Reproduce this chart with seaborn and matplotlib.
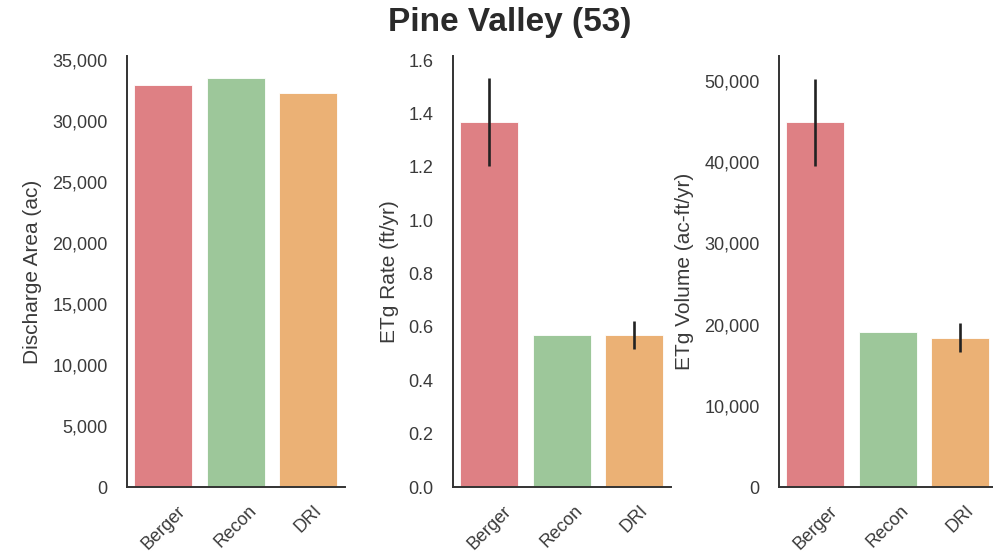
import numpy as np
import pandas as pd
import matplotlib
matplotlib.use("Agg")
import matplotlib.pyplot as plt
from matplotlib.ticker import FuncFormatter, MultipleLocator
import seaborn as sns

# Groundwater discharge estimates for Pine Valley (basin 53)
sources = ["Berger", "Recon", "DRI"]
discharge_area = [32950, 33500, 32320]          # ac
etg_rate = [1.366, 0.570, 0.570]                # ft/yr
etg_rate_low = [1.204, np.nan, 0.516]
etg_rate_high = [1.531, np.nan, 0.623]
etg_volume = [44910, 19050, 18310]              # ac-ft/yr
etg_volume_low = [39540, np.nan, 16660]
etg_volume_high = [50300, np.nan, 20160]

colors = ["#de8084", "#9dc79a", "#ebb175"]

sns.set_style("white")
plt.rcParams["font.family"] = ["Liberation Sans", "DejaVu Sans"]
text_color = "#3a3a3a"

fig = plt.figure(figsize=(9.93, 5.57), dpi=100)
W, H = 993, 557
bottom = 70 / H
height = 431 / H
width = 217.5 / W
lefts = [127 / W, 453 / W, 779 / W]

panels = [
    dict(values=discharge_area, low=None, high=None,
         ylabel="Discharge Area (ac)", ylim=35330, step=5000, fmt="{:,.0f}"),
    dict(values=etg_rate, low=etg_rate_low, high=etg_rate_high,
         ylabel="ETg Rate (ft/yr)", ylim=1.615, step=0.2, fmt="{:.1f}"),
    dict(values=etg_volume, low=etg_volume_low, high=etg_volume_high,
         ylabel="ETg Volume (ac-ft/yr)", ylim=53080, step=10000, fmt="{:,.0f}"),
]

for left, p in zip(lefts, panels):
    ax = fig.add_axes([left, bottom, width, height])
    df = pd.DataFrame({"source": sources, "value": p["values"]})
    sns.barplot(data=df, x="source", y="value", hue="source", palette=colors,
                order=sources, hue_order=sources, legend=False, errorbar=None,
                width=0.8, saturation=1, ax=ax)
    for bar in ax.patches:
        bar.set_edgecolor("white")
        bar.set_linewidth(0.6)

    if p["low"] is not None:
        centers = [b.get_x() + b.get_width() / 2 for b in ax.patches]
        low = np.array(p["low"], dtype=float)
        high = np.array(p["high"], dtype=float)
        mask = ~np.isnan(low)
        ax.vlines(np.array(centers)[mask], low[mask], high[mask],
                  color="#222222", linewidth=1.9, zorder=3)

    ax.set_xlim(-0.5, 2.5)
    ax.set_ylim(0, p["ylim"])
    ax.yaxis.set_major_locator(MultipleLocator(p["step"]))
    fmt = p["fmt"]
    ax.yaxis.set_major_formatter(FuncFormatter(lambda v, _, f=fmt: f.format(v)))
    ax.set_xlabel("")
    ax.set_ylabel(p["ylabel"], fontsize=15, color=text_color, labelpad=7)
    ax.tick_params(axis="both", length=0, labelsize=13, labelcolor=text_color)
    ax.tick_params(axis="y", pad=14)
    ax.tick_params(axis="x", pad=11)
    for lab in ax.get_xticklabels():
        lab.set_rotation(45)
        lab.set_ha("center")
    sns.despine(ax=ax)
    for side in ("left", "bottom"):
        ax.spines[side].set_color("#333333")
        ax.spines[side].set_linewidth(1.4)

fig.text(510 / W, 1 - 23 / H, "Pine Valley (53)", ha="center", va="center",
         fontsize=24, fontweight="bold", color="#2a2a2a")

fig.savefig("out.png", dpi=100)
